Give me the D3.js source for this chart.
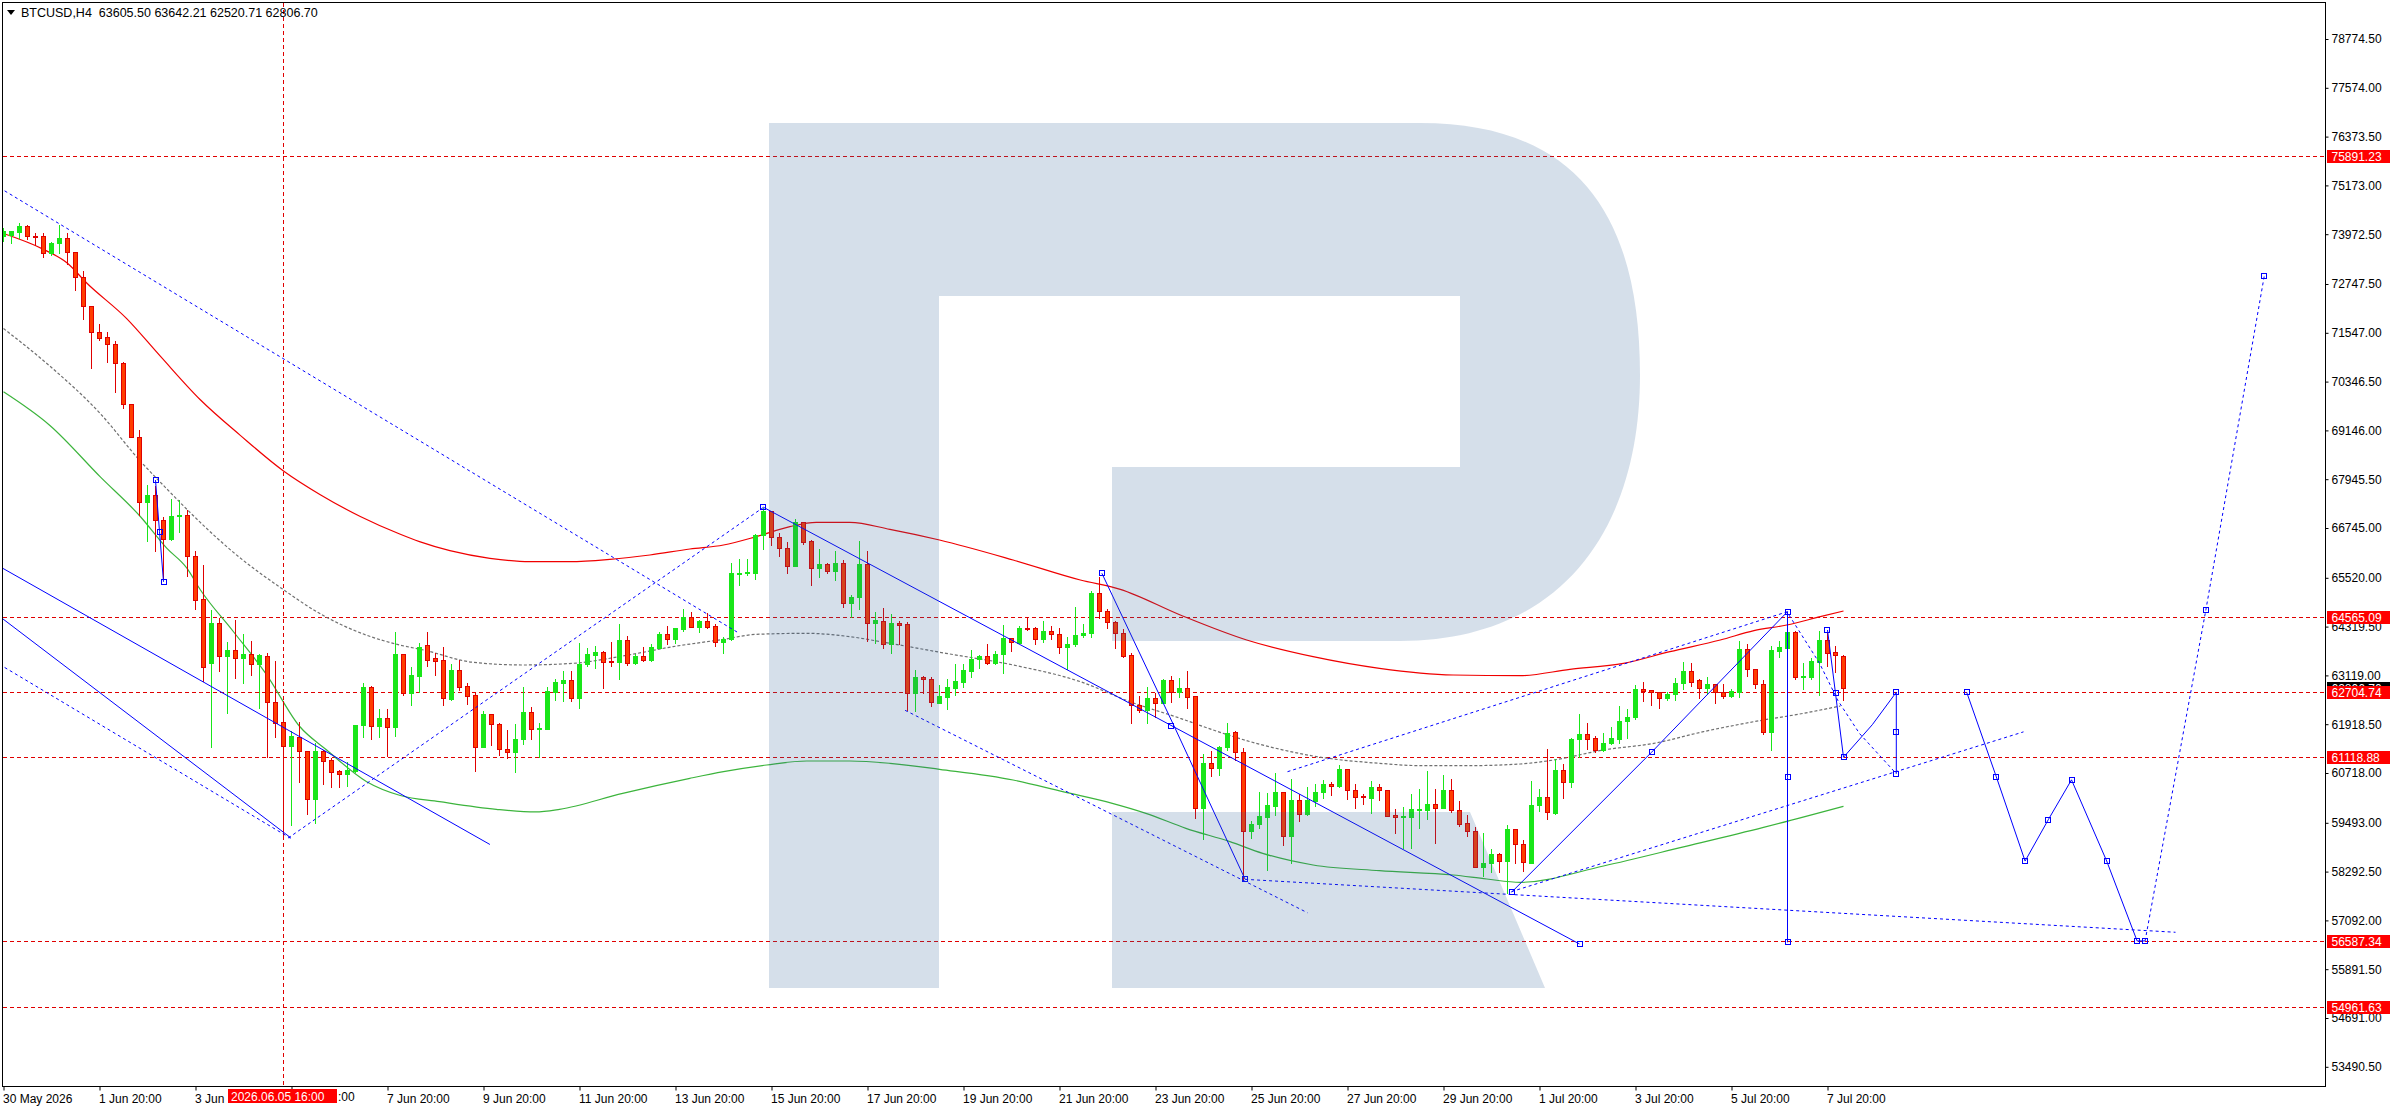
<!DOCTYPE html>
<html>
<head>
<meta charset="utf-8">
<script src="https://cdn.jsdelivr.net/npm/d3@7"></script>
<style>
    html, body { margin: 0; padding: 0; background: #fff; }
    svg { display: block; font-family: "Liberation Sans", Arial, sans-serif; font-size: 12px; }
</style>
</head>
<body>
<svg id="chart" width="2396" height="1110"></svg>
<script>
/*global d3*/

// BTCUSD H4 candles, bar 0 = 30 May 20:00
var opens = [73920,73959,74037,74173,73930,73920,73521,73745,73872,73531,
72918,72217,71555,71438,71282,70795,69803,68994,67388,67563,
66931,66463,67028,67077,66055,65003,63426,64400,63601,63747,
63553,63640,63407,63601,62453,61966,61382,61606,61265,60087,
61255,61041,60768,60700,60768,61888,62842,61868,62082,61858,
63646,62678,63113,63867,63539,63490,62539,63244,62850,62637,
61366,62161,61915,61309,61243,61546,62211,61792,61809,62719,
62940,63006,62571,63391,63629,63687,63482,63457,63982,63432,
63596,63498,63801,64129,64023,64261,64564,64318,64457,64334,
63933,64006,65622,65630,65646,66573,67163,66516,66245,65819,
66885,66425,65753,65860,65696,65876,64908,65040,65860,64416,
64457,63883,64400,64375,62678,63072,63022,62448,62596,62817,
62965,63236,63514,63596,63416,63637,64031,63924,64293,64285,
64006,64211,64129,63826,63883,64105,64154,65138,64712,64425,
64154,63621,62391,62268,62555,62448,63006,62719,62809,62612,
59849,60956,60833,61350,61719,61227,59300,59464,59644,59915,
60243,59177,60054,59701,60038,60243,60448,60407,60808,60300,
60161,60095,60366,60292,59685,59644,59644,59816,59816,59947,
59865,60292,59816,59480,59300,58398,58496,58717,58562,59349,
58963,58512,59923,60120,59742,60792,60505,61546,61678,61571,
61284,61448,61555,61997,62088,62776,62752,62703,62555,62662,
62924,63227,63006,62801,62899,62719,62621,62719,63760,63268,
62899,61735,63728,63801,64195,63088,63088,63457,63990,63703,
63605.50];

var highs = [74154,74076,74271,74212,74037,74037,73794,74212,74018,73570,
73083,72236,71798,71584,71360,70854,69832,69170,67836,67807,
67048,67495,67466,67223,66201,65860,64760,64546,63962,64497,
64156,63981,63670,63689,63504,62521,61771,61985,61284,61479,
61304,61109,60817,61012,61907,62959,62891,62326,62326,64211,
63662,63350,63933,64211,63695,63842,63432,63514,62957,62735,
62268,62186,61965,61801,61940,62858,62366,61965,62858,63063,
63252,63252,63933,63826,63867,63744,63965,64400,64113,63662,
63842,63924,64220,64359,64318,64777,64703,64507,64671,64400,
64088,65901,65999,65999,66614,67254,67188,66655,66425,66999,
66917,66466,66245,65917,66204,65974,65122,66450,66204,64703,
64810,64646,64482,64466,63277,63129,63104,62908,63047,63416,
63416,63760,63646,63908,63744,64384,64072,64359,64580,64334,
64482,64359,64318,64088,64826,64400,65220,65573,64769,64482,
64277,63703,62637,62858,62719,63047,63129,63072,63252,62637,
61202,61284,61407,61981,61776,61366,59562,60275,60243,60751,
60259,60603,60218,60407,60464,60562,60530,60931,60833,60464,
60218,60546,60480,60300,59849,59906,60218,60341,60792,60341,
60685,60587,60054,59701,59414,59259,58865,58783,59455,59373,
59086,60546,60341,61325,61095,60956,61596,62186,61965,61653,
61719,61883,62391,62309,62908,62981,62760,62735,62735,63072,
63473,63457,63063,63104,62924,62940,62801,63990,63924,63293,
63031,63867,63990,64482,64236,63457,63580,64236,64195,63867,
63642.21];

var lows = [73794,73765,73891,73843,73696,73404,73453,73502,73229,72606,
71896,70679,71360,70825,70095,69705,68975,67057,66414,66181,
65519,66444,66658,65568,64760,62988,61362,63231,62199,63056,
62939,63134,62306,61119,61605,59120,59435,60506,59700,59500,
60457,60379,60379,60408,60739,61596,61557,61605,61138,61628,
62637,62391,62703,63350,63129,62391,62514,62760,62416,60767,
61350,61407,61161,61079,60751,61432,61546,61104,61801,62514,
62498,62498,62325,63359,63293,62817,63350,63031,63375,63400,
63473,63473,63785,63892,63908,64220,64302,64195,64277,63851,
63662,63990,65343,65589,65491,66229,66327,66056,65646,65810,
66352,65343,65548,65630,65466,64810,64548,64753,63965,63908,
63801,63678,63892,62268,62252,62694,62375,62432,62293,62637,
62842,63088,63309,63400,63400,63170,63728,63908,64236,63883,
63949,64006,63678,63268,63851,64056,64056,64523,64277,63801,
63580,61940,62227,61956,62104,62432,62457,62596,62309,59603,
59086,60644,60669,61284,61038,58086,59127,59357,58332,59685,
58947,58512,59546,59685,59906,60095,60177,60366,60070,59849,
59956,59742,60054,59660,59250,58881,58881,59373,59578,59004,
59849,59751,59423,59168,58398,58184,58291,58291,57774,58496,
58316,58512,59783,59587,59701,60095,60366,61120,61309,61243,
61268,61432,61448,61571,62038,62498,62391,62325,62514,62514,
62776,62858,62571,62653,62432,62571,62596,62596,63113,62801,
61669,61284,63564,63760,63031,62776,63031,62637,63350,63211,
62520.71];

var closes = [74057,74057,74173,73940,73911,73502,73745,73872,73531,72918,
72217,71555,71428,71282,70795,69803,68994,67388,67563,66931,
66463,67028,67077,66055,64984,63329,64400,63601,63747,63553,
63640,63407,63621,62453,61946,61382,61625,61265,60087,61255,
61012,60749,60700,60798,61888,62842,61868,62082,61849,63646,
62678,63129,63818,63498,63482,62555,63252,62842,62621,61366,
62161,61915,61300,61243,61546,62211,61792,61825,62735,62949,
63006,62571,63398,63646,63695,63457,63449,63990,63432,63596,
63498,63810,64138,64023,64277,64564,64318,64457,64302,63933,
64006,65630,65638,65663,66573,67163,66516,66245,65819,66885,
66409,65753,65860,65696,65876,64908,65040,65860,64416,64474,
63883,64408,64359,62678,63072,63022,62457,62612,62826,62981,
63252,63523,63596,63416,63646,64047,63933,64285,64269,64006,
64211,64129,63826,63892,64113,64154,65138,64712,64425,64154,
63605,62391,62268,62555,62448,63006,62719,62809,62596,59849,
60956,60833,61350,61694,61227,59300,59464,59660,59931,60243,
59177,60054,59701,60054,60243,60448,60407,60808,60300,60136,
60120,60366,60292,59669,59644,59669,59824,59841,59947,59865,
60292,59816,59464,59300,58398,58496,58717,58562,59332,58963,
58537,59923,60120,59751,60792,60505,61555,61678,61555,61284,
61448,61571,61997,62088,62776,62744,62711,62555,62662,62924,
63227,62965,62801,62899,62719,62621,62735,63760,63268,62899,
61735,63744,63826,64195,63088,63104,63473,63990,63678,63621,
62806.70];

// moving averages, [bar, price] knots
var maRed = [[0,73989],[5,73599],[8,73258],[10.4,72772],[15.4,71896],[19.6,70971],[24.6,69900],[29.6,69024],
    [35,68148],[39.6,67564],[44.6,67028],[49.6,66590],[52,66409],[55.8,66188],[60.8,66000],[65.8,65917],
    [70.8,65917],[75.8,65974],[80.8,66081],[85.8,66229],[90,66327],[94.1,66532],[98.3,66778],[101.6,66885],
    [105.8,66885],[110.8,66712],[117,66450],[126.2,65958],[134.6,65466],[139.6,65236],[147.1,64605],
    [155.4,63990],[163.7,63580],[172,63293],[181.2,63129],[189.6,63113],[195.8,63268],[202.5,63416],
    [208.3,63703],[214.6,63990],[218.8,64220],[222.9,64359],[227.1,64564],[230,64703]];
var maGreen = [[0,70095],[5.8,69267],[12.1,68002],[17.1,67028],[20.4,66249],[22.9,65763],[24.6,65227],
    [28.7,64205],[32.9,63134],[37,61868],[40.4,61284],[45.4,60505],[49.6,60165],[54.5,60013],[61.6,59824],
    [66.5,59760],[69.5,59824],[77.4,60218],[85.8,60587],[90,60751],[95.4,60915],[100.4,61013],[105.8,61013],
    [110.8,60956],[117,60808],[126.2,60546],[132.4,60259],[138.6,59972],[142.8,59726],[147.8,59357],
    [153.3,59029],[157.4,58742],[163.7,58455],[172,58316],[181.2,58209],[185.4,58110],[189.6,58029],
    [200,58430],[210,58900],[220,59380],[230,59900]];
var maGrey = [[0,71652],[5.8,70727],[12.1,69559],[17.1,68391],[20.4,67710],[24.6,66882],[28.7,66152],
    [35,65227],[39.1,64691],[45.4,64107],[49.6,63864],[52.5,63744],[58.7,63441],[65,63375],[71.2,63416],
    [77.4,63596],[83.7,63826],[90,64006],[94.1,64129],[100.4,64154],[105.8,64072],[110.8,63908],
    [117.8,63662],[126.2,63375],[134.6,62965],[140.8,62473],[147.1,62063],[151.2,61776],[155.4,61514],
    [159.6,61300],[163.7,61136],[172,60956],[177.1,60899],[183.3,60899],[189.6,60940],[193.8,61038],
    [200,61284],[206.3,61448],[212.5,61735],[218.8,61981],[225,62186],[229.6,62366]];

// drawn objects (trend lines, forecast), [bar, price]
var dotChanTop = [[-0.5,75115],[92,64150]];
var dotRise1 = [[35.6,59120],[95,67254]];
var dotChanLow = [[-0.5,63390],[35.9,59110]];
var dotLowChan = [[112.7,62260],[163,57280]];
var dotFlatLow = [[155.2,58102],[271.5,56800]];
var dotUpperRise = [[160.5,60750],[223,64687]];
var dotRise2 = [[188.5,57800],[252.5,61730]];
var dotFcastA = [[223.2,64600],[227,63420],[229.3,62500],[232,61690],[236.6,60700]];
var dotFcastB = [[267.7,56587],[275.3,64734],[282.6,72950]];

var solLeftA = [[-0.5,65799],[60.8,58960]];
var solLeftB = [[-0.5,64572],[35.9,59125]];
var solSmall = [[19,67924],[19.5,66658],[20,65422]];
var solLongDown = [[95,67254],[197,56512]];
var solZig1 = [[137.3,65630],[146.3,61883],[155.2,58102]];
var solZig2 = [[188.5,57783],[206,61227],[223,64687]];
var solVert = [[223,64687],[223,60612],[223,56553]];
var solFcastA = [[228,64236],[229,62678],[230,61104],[233.6,61906],[236.6,62705],[236.6,61718],[236.6,60700]];
var solFcastB = [[245.4,62705],[249.1,60625],[252.7,58552],[255.6,59570],[258.5,60550],[262.9,58552],[266.7,56587],[267.7,56587]];

var markerPts = [[95,67254],[19,67924],[19.5,66658],[20,65422],[197,56512],[145.9,61883],
    [137.3,65630],[155.2,58102],[188.5,57783],[206,61227],[223,64687],[223,60612],[223,56553],
    [228,64236],[229,62678],[230,61104],[236.6,62705],[236.6,61718],[236.6,60700],
    [245.4,62705],[249.1,60625],[252.7,58552],[255.6,59570],[258.5,60550],[262.9,58552],[266.7,56587],
    [267.7,56587],[275.3,64734],[282.6,72950]];

var levels = [75891.23, 64565.09, 62704.74, 61118.88, 56587.34, 54961.63];
var lastPrice = 62806.70;

var priceTicks = [78774.50,77574.00,76373.50,75173.00,73972.50,72747.50,71547.00,70346.50,69146.00,
    67945.50,66745.00,65520.00,64319.50,63119.00,61918.50,60718.00,59493.00,58292.50,57092.00,
    55891.50,54691.00,53490.50];

// time labels; the two under the crosshair box only show their visible parts
var timeIdx = [0,12,24,36,48,60,72,84,96,108,120,132,144,156,168,180,192,204,216,228];
var timeLabels = ["30 May 2026","1 Jun 20:00","3 Jun","","7 Jun 20:00","9 Jun 20:00",
    "11 Jun 20:00","13 Jun 20:00","15 Jun 20:00","17 Jun 20:00","19 Jun 20:00","21 Jun 20:00",
    "23 Jun 20:00","25 Jun 20:00","27 Jun 20:00","29 Jun 20:00","1 Jul 20:00","3 Jul 20:00",
    "5 Jul 20:00","7 Jul 20:00"];
var hiddenTail = ":00";

var crossBar = 35;
var crossLabel = "2026.06.05 16:00";
var header = "BTCUSD,H4  63605.50 63642.21 62520.71 62806.70";

// ---------------------------------------------------------------
var svg = d3.select("#chart");
var plotR = 2325.5, plotB = 1086.5;

var x = d3.scaleLinear().domain([0, 100]).range([3.5, 803.5]);
var y = d3.scaleLinear().domain([54691, 78774.5]).range([1018, 39]);

function py(v) { return Math.round(y(v)) + 0.5; }

svg.append("defs").append("clipPath").attr("id", "plotClip")
    .append("rect").attr("x", 3).attr("y", 3).attr("width", plotR - 3).attr("height", plotB - 3);

var plot = svg.append("g").attr("clip-path", "url(#plotClip)");

// horizontal levels
plot.selectAll("line.level").data(levels).enter().append("line")
    .attr("class", "level")
    .attr("x1", 3).attr("x2", plotR)
    .attr("y1", py).attr("y2", py)
    .attr("stroke", "#e00000").attr("stroke-dasharray", "4,3")
    .attr("shape-rendering", "crispEdges");

// crosshair
plot.append("line")
    .attr("x1", x(crossBar)).attr("x2", x(crossBar))
    .attr("y1", 3).attr("y2", plotB)
    .attr("stroke", "#e00000").attr("stroke-dasharray", "4,3")
    .attr("shape-rendering", "crispEdges");

// moving averages
var maLine = d3.line()
    .x(function (d) { return x(d[0]); })
    .y(function (d) { return y(d[1]); })
    .curve(d3.curveMonotoneX);

plot.append("path").attr("d", maLine(maGreen)).attr("fill", "none").attr("stroke", "#3cb43c").attr("stroke-width", 1.2);
plot.append("path").attr("d", maLine(maGrey)).attr("fill", "none").attr("stroke", "#707070")
    .attr("stroke-width", 1.2).attr("stroke-dasharray", "3,2");
plot.append("path").attr("d", maLine(maRed)).attr("fill", "none").attr("stroke", "#f00000").attr("stroke-width", 1.2);

// candles
var bars = d3.range(opens.length).map(function (i) {
    return {i: i, o: opens[i], h: highs[i], l: lows[i], c: closes[i]};
});

var candle = plot.selectAll("g.candle").data(bars).enter().append("g")
    .attr("class", "candle")
    .attr("shape-rendering", "crispEdges");

candle.append("line")
    .attr("x1", function (d) { return x(d.i); })
    .attr("x2", function (d) { return x(d.i); })
    .attr("y1", function (d) { return py(d.h); })
    .attr("y2", function (d) { return py(d.l); })
    .attr("stroke", function (d) { return d.c >= d.o ? "#19e619" : "#e00000"; });

candle.append("rect")
    .attr("x", function (d) { return x(d.i) - 2; })
    .attr("width", 4)
    .attr("y", function (d) { return py(Math.max(d.o, d.c)); })
    .attr("height", function (d) { return Math.max(py(Math.min(d.o, d.c)) - py(Math.max(d.o, d.c)), 1); })
    .attr("fill", function (d) { return d.c >= d.o ? "#19e619" : "#ff3d00"; })
    .attr("stroke", function (d) { return d.c >= d.o ? "#19e619" : "#e00000"; });

// drawn objects
var objLine = d3.line()
    .x(function (d) { return x(d[0]); })
    .y(function (d) { return y(d[1]); });

[dotChanTop, dotRise1, dotChanLow, dotLowChan, dotFlatLow, dotUpperRise, dotRise2, dotFcastA, dotFcastB]
    .forEach(function (pts) {
        plot.append("path").attr("d", objLine(pts)).attr("fill", "none")
            .attr("stroke", "#0000ff").attr("stroke-dasharray", "3,3");
    });

[solLeftA, solLeftB, solSmall, solLongDown, solZig1, solZig2, solVert, solFcastA, solFcastB]
    .forEach(function (pts) {
        plot.append("path").attr("d", objLine(pts)).attr("fill", "none").attr("stroke", "#0000ff");
    });

plot.selectAll("rect.marker").data(markerPts).enter().append("rect")
    .attr("class", "marker")
    .attr("x", function (d) { return Math.round(x(d[0])) - 2.5; })
    .attr("y", function (d) { return Math.round(y(d[1])) - 2.5; })
    .attr("width", 5).attr("height", 5)
    .attr("fill", "none").attr("stroke", "#0000ff")
    .attr("shape-rendering", "crispEdges");

// watermark R, drawn translucent over the chart
plot.append("path")
    .attr("d", "M769,123 H1420 C1585,123 1640,225 1640,375 C1640,525 1565,641 1400,641 H1112 V467 H1460 V296 H939 V988 H769 Z" +
        " M1112,812 H1470 L1545,988 H1112 Z")
    .attr("fill", "rgb(45,95,150)").attr("fill-opacity", 0.2);

// frame
svg.append("path")
    .attr("d", "M2.5,2.5 H" + plotR + " V" + plotB + " H2.5 Z")
    .attr("fill", "none").attr("stroke", "#000").attr("shape-rendering", "crispEdges");

// price axis
var yAxis = svg.append("g")
    .attr("transform", "translate(" + plotR + ",0)")
    .call(d3.axisRight(y).tickValues(priceTicks).tickSize(3).tickSizeOuter(0).tickPadding(3)
        .tickFormat(d3.format(".2f")));
yAxis.select(".domain").remove();
yAxis.selectAll("text").attr("font-family", "Liberation Sans, Arial, sans-serif").attr("font-size", 12).attr("fill", "#000");
yAxis.selectAll("line").attr("stroke", "#000");

// time axis
var xAxis = svg.append("g")
    .attr("transform", "translate(0," + plotB + ")")
    .call(d3.axisBottom(x).tickValues(timeIdx).tickSize(4).tickSizeOuter(0).tickPadding(4)
        .tickFormat(function (d, k) { return timeLabels[k]; }));
xAxis.select(".domain").remove();
xAxis.selectAll("text").attr("text-anchor", "start").attr("x", -1)
    .attr("font-family", "Liberation Sans, Arial, sans-serif").attr("font-size", 12).attr("fill", "#000");
xAxis.selectAll("line").attr("stroke", "#000");

// price boxes: current price first, level boxes on top
function priceBox(v, bg) {
    var cy = Math.round(y(v));
    svg.append("rect").attr("x", 2327).attr("y", cy - 6).attr("width", 63).attr("height", 13).attr("fill", bg);
    svg.append("text").attr("x", 2331.5).attr("y", cy + 4.5).attr("fill", "#fff").text(d3.format(".2f")(v));
}
priceBox(lastPrice, "#000");
levels.forEach(function (v) { priceBox(v, "#ff0000"); });

// crosshair time box
svg.append("rect").attr("x", 228).attr("y", 1089).attr("width", 109).attr("height", 14).attr("fill", "#ff0000");
svg.append("text").attr("x", 231).attr("y", 1100.5).attr("fill", "#fff").text(crossLabel);
svg.append("text").attr("x", 338).attr("y", 1100.5).attr("fill", "#000").text(hiddenTail);

// header
svg.append("path").attr("d", "M7,10 L15,10 L11,15 Z").attr("fill", "#000");
svg.append("text").attr("x", 21).attr("y", 17).attr("fill", "#000").attr("font-size", 12.5)
    .style("white-space", "pre").text(header);
</script>
</body>
</html>
